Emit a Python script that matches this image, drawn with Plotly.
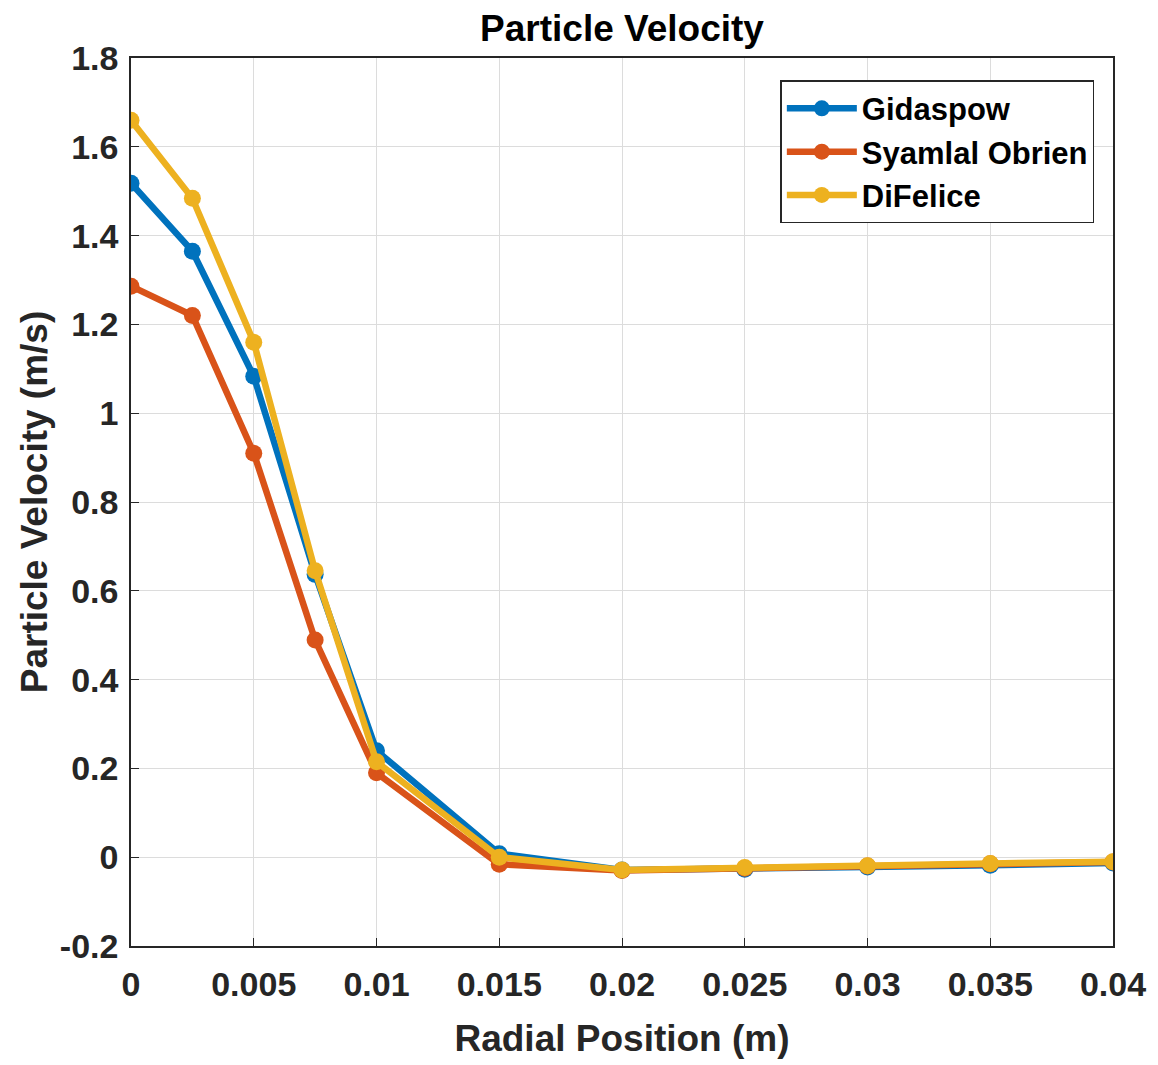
import plotly.graph_objects as go

radial_position = [0, 0.0025, 0.005, 0.0075, 0.01, 0.015, 0.02, 0.025, 0.03, 0.035, 0.04]
gidaspow = [1.518, 1.365, 1.083, 0.637, 0.240, 0.008, -0.029, -0.027, -0.022, -0.018, -0.013]
syamlal_obrien = [1.286, 1.220, 0.910, 0.489, 0.190, -0.016, -0.030, -0.025, -0.020, -0.015, -0.011]
difelice = [1.660, 1.484, 1.160, 0.645, 0.215, 0.000, -0.029, -0.023, -0.019, -0.014, -0.010]

series_names = ["Gidaspow", "Syamlal Obrien", "DiFelice"]
series_values = [gidaspow, syamlal_obrien, difelice]
series_colors = ["#0072BD", "#D95319", "#EDB120"]

x_tick_vals = [0, 0.005, 0.01, 0.015, 0.02, 0.025, 0.03, 0.035, 0.04]
x_tick_text = ["0", "0.005", "0.01", "0.015", "0.02", "0.025", "0.03", "0.035", "0.04"]
y_tick_vals = [-0.2, 0, 0.2, 0.4, 0.6, 0.8, 1.0, 1.2, 1.4, 1.6, 1.8]
y_tick_text = ["-0.2", "0", "0.2", "0.4", "0.6", "0.8", "1", "1.2", "1.4", "1.6", "1.8"]

FONT = "Liberation Sans, Arial, sans-serif"

fig = go.Figure()
for name, vals, col in zip(series_names, series_values, series_colors):
    fig.add_trace(go.Scatter(
        x=radial_position, y=vals, name=name, mode="lines+markers",
        line=dict(color=col, width=6.5),
        marker=dict(color=col, size=17, symbol="circle"),
    ))

axis_common = dict(
    showline=True, linecolor="#262626", linewidth=1.5, mirror=True,
    showgrid=True, gridcolor="#dcdcdc", gridwidth=1,
    ticks="inside", ticklen=8, tickcolor="#262626",
    zeroline=False,
    tickfont=dict(family=FONT, size=34, color="#262626", weight="bold"),
)

fig.update_layout(
    width=1150, height=1057,
    paper_bgcolor="white", plot_bgcolor="white",
    margin=dict(l=123, r=36, t=50, b=119),
    font=dict(family=FONT, color="#262626"),
    title=dict(text="<b>Particle Velocity</b>", x=0.5, xref="paper", xanchor="center",
               y=0.981, yref="container", yanchor="middle",
               font=dict(family=FONT, size=37, color="#000000")),
    xaxis=dict(range=[0, 0.04], tickvals=x_tick_vals, ticktext=x_tick_text,
               ticklabelstandoff=7,
               title=dict(text="<b>Radial Position (m)</b>", standoff=24,
                          font=dict(family=FONT, size=37, color="#262626")),
               **axis_common),
    yaxis=dict(range=[-0.2, 1.8], tickvals=y_tick_vals, ticktext=y_tick_text,
               ticklabelstandoff=4,
               title=dict(text="<b>Particle Velocity (m/s)</b>", standoff=1,
                          font=dict(family=FONT, size=37, color="#262626")),
               **axis_common),
    legend=dict(x=0.981, y=0.975, xanchor="right", yanchor="top",
                bgcolor="white", bordercolor="#262626", borderwidth=1.5,
                font=dict(family=FONT, size=31, color="#000000", weight="bold"),
                itemwidth=70, tracegroupgap=0),
    showlegend=True,
)

fig.write_html("out.html")
